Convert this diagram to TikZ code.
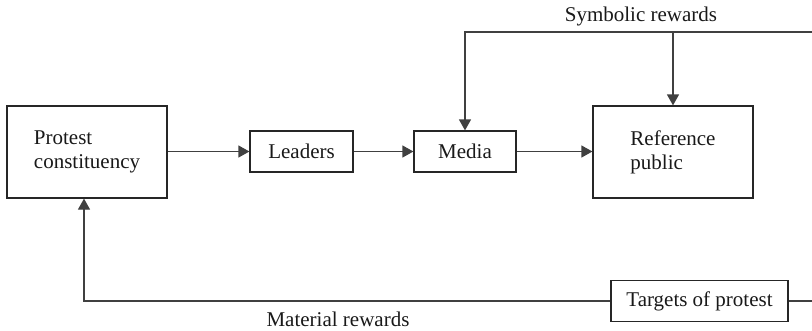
\documentclass[tikz,border=0pt]{standalone}
\usepackage{fontspec}
\setmainfont{Liberation Serif}
\usetikzlibrary{arrows.meta}
\begin{document}
\begin{tikzpicture}[x=1pt,y=-1pt,
  box/.style={draw=black!85,line width=1.2pt,rectangle,inner sep=0pt,font=\fontsize{21}{24}\selectfont,text=black!90},
  lbl/.style={inner sep=0pt,font=\fontsize{21}{24}\selectfont,text=black!90},
  conn/.style={draw=black!75,line width=1.2pt},
  arr/.style={conn,-{Triangle[length=11pt,width=12pt]}}]
\useasboundingbox (0,0) rectangle (812,330);
\node[box,minimum width=160pt,minimum height=92pt,align=left] (pc) at (87,152) {Protest\\constituency};
\node[box,minimum width=103pt,minimum height=41pt] (ld) at (301.5,151.5) {Leaders};
\node[box,minimum width=102pt,minimum height=41pt] (md) at (465,151.5) {Media};
\node[box,minimum width=160pt,minimum height=92pt,align=left] (rp) at (673,152) {Reference\\public};
\node[box,minimum width=177pt,minimum height=41pt] (tg) at (699.5,301) {Targets of protest};
\node[lbl,anchor=base] (sym) at (641,21) {Symbolic rewards};
\node[lbl,anchor=base] (mat) at (338,326) {Material rewards};
\coordinate (tr) at (812,32);
\coordinate (br) at (812,301);
\draw[arr] (pc.east |- ld.west) -- (ld.west);
\draw[arr] (ld.east) -- (md.west);
\draw[arr] (md.east) -- (rp.west |- md.east);
\draw[arr] (tr) -| (md.north);
\draw[arr] (rp.north |- tr) -- (rp.north);
\draw[conn] (tg.east) -- (br);
\draw[arr] (tg.west) -| ([xshift=-3pt]pc.south);
\end{tikzpicture}
\end{document}
